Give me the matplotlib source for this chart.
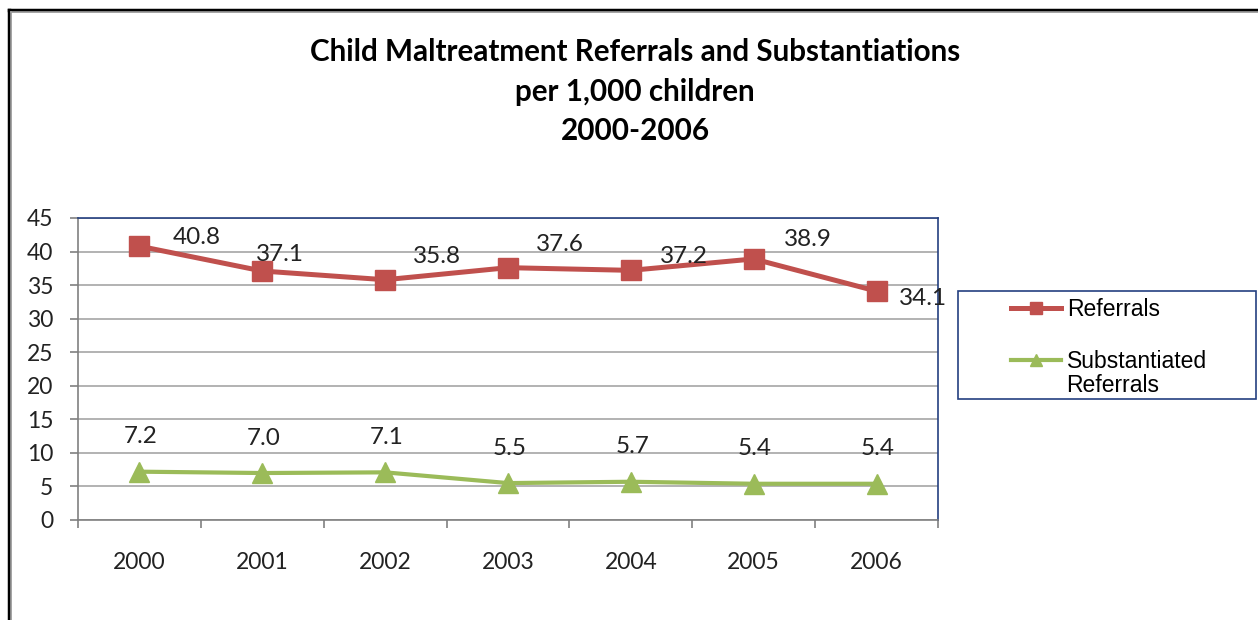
import matplotlib
matplotlib.use("Agg")
import matplotlib.pyplot as plt
from matplotlib.lines import Line2D
from matplotlib.patches import Rectangle

years = ["2000", "2001", "2002", "2003", "2004", "2005", "2006"]
referrals = [40.8, 37.1, 35.8, 37.6, 37.2, 38.9, 34.1]
substantiated = [7.2, 7.0, 7.1, 5.5, 5.7, 5.4, 5.4]
y_ticks = [0, 5, 10, 15, 20, 25, 30, 35, 40, 45]

# label offsets in pixels (layout only)
ref_offsets = [(57, 9), (18, 17), (52, 23), (52, 23), (53, 14), (54, 19), (46, -7)]

RED = "#C0504D"
GREEN = "#9BBB59"
NAVY = "#243F80"
GRID = "#A6A6A6"
FONT = "Lato"

fig = plt.figure(figsize=(12.58, 6.2), dpi=100)
W, H = 1258, 620
PX = 0.72  # px -> pt
ax = fig.add_axes([78 / W, 1 - 520 / H, (938 - 78) / W, (520 - 218) / H])

x = list(range(len(years)))
ax.plot(x, referrals, color=RED, lw=3.6, marker="s", ms=14.5, mfc=RED, mec=RED,
        label="Referrals", zorder=3)
ax.plot(x, substantiated, color=GREEN, lw=3.0, marker="^", ms=14.5, mfc=GREEN, mec=GREEN,
        label="Substantiated", zorder=3)

for xi, v, (dx, dy) in zip(x, referrals, ref_offsets):
    ax.annotate(f"{v:.1f}", (xi, v), xytext=(dx * PX, dy * PX), textcoords="offset points",
                ha="center", va="center", fontsize=17.5, family=FONT, color="#222222")
for xi, v in zip(x, substantiated):
    ax.annotate(f"{v:.1f}", (xi, v), xytext=(1, 35 * PX), textcoords="offset points",
                ha="center", va="center", fontsize=17.5, family=FONT, color="#222222")

ax.set_xlim(-0.5, len(years) - 0.5)
ax.set_ylim(0, 45)
ax.set_yticks(y_ticks)
ax.set_yticklabels([str(t) for t in y_ticks], family=FONT, fontsize=16.5, color="#222222")
ax.set_xticks(x)
ax.set_xticklabels(years, family=FONT, fontsize=16.5, color="#222222")
ax.set_xticks([i - 0.5 for i in range(len(years) + 1)], minor=True)
ax.tick_params(axis="x", which="major", length=0, pad=23)
ax.tick_params(axis="x", which="minor", length=5.8, width=1.2, color="#808080", direction="out")
ax.tick_params(axis="y", length=5.8, width=1.2, color="#808080", direction="out", pad=12)
ax.yaxis.grid(True, color=GRID, lw=1.2)
ax.set_axisbelow(True)
for s in ["left", "bottom"]:
    ax.spines[s].set_color("#808080")
    ax.spines[s].set_linewidth(1.2)
for s in ["top", "right"]:
    ax.spines[s].set_color(NAVY)
    ax.spines[s].set_linewidth(1.2)

# title
for txt, yy in [("Child Maltreatment Referrals and Substantiations", 52),
                ("per 1,000 children", 92), ("2000-2006", 131)]:
    fig.text(635 / W, 1 - yy / H, txt, ha="center", va="center", fontsize=21.3,
             family=FONT, fontweight="bold", color="black")

# legend box
fig.patches.append(Rectangle((958 / W, 1 - 399 / H), (1256 - 958) / W, (399 - 291) / H,
                             transform=fig.transFigure, fill=False, ec=NAVY, lw=1.2))
leg = fig.legend(loc="upper left", bbox_to_anchor=(1011 / W, 1 - 298 / H),
                 frameon=False, prop={"family": "Liberation Sans", "size": 16.5},
                 handlelength=2.2, handletextpad=0.25, labelspacing=1.25, markerscale=0.55,
                 borderpad=0, borderaxespad=0)
fig.text(1066 / W, 1 - 385 / H, "Referrals", ha="left", va="center",
         family="Liberation Sans", fontsize=16.5, color="black")

# outer border
fig.add_artist(Line2D([8.5 / W, 8.5 / W], [0, 1 - 9.5 / H], transform=fig.transFigure,
                      color="black", lw=2.5))
fig.add_artist(Line2D([8.5 / W, 1], [1 - 9.5 / H, 1 - 9.5 / H], transform=fig.transFigure,
                      color="black", lw=2.5))
fig.add_artist(Line2D([11 / W, 11 / W], [0, 1 - 12 / H], transform=fig.transFigure,
                      color="#A0A0A0", lw=1.2))
fig.add_artist(Line2D([11 / W, 1], [1 - 12 / H, 1 - 12 / H], transform=fig.transFigure,
                      color="#A0A0A0", lw=1.2))

fig.savefig("out.png", dpi=100)
